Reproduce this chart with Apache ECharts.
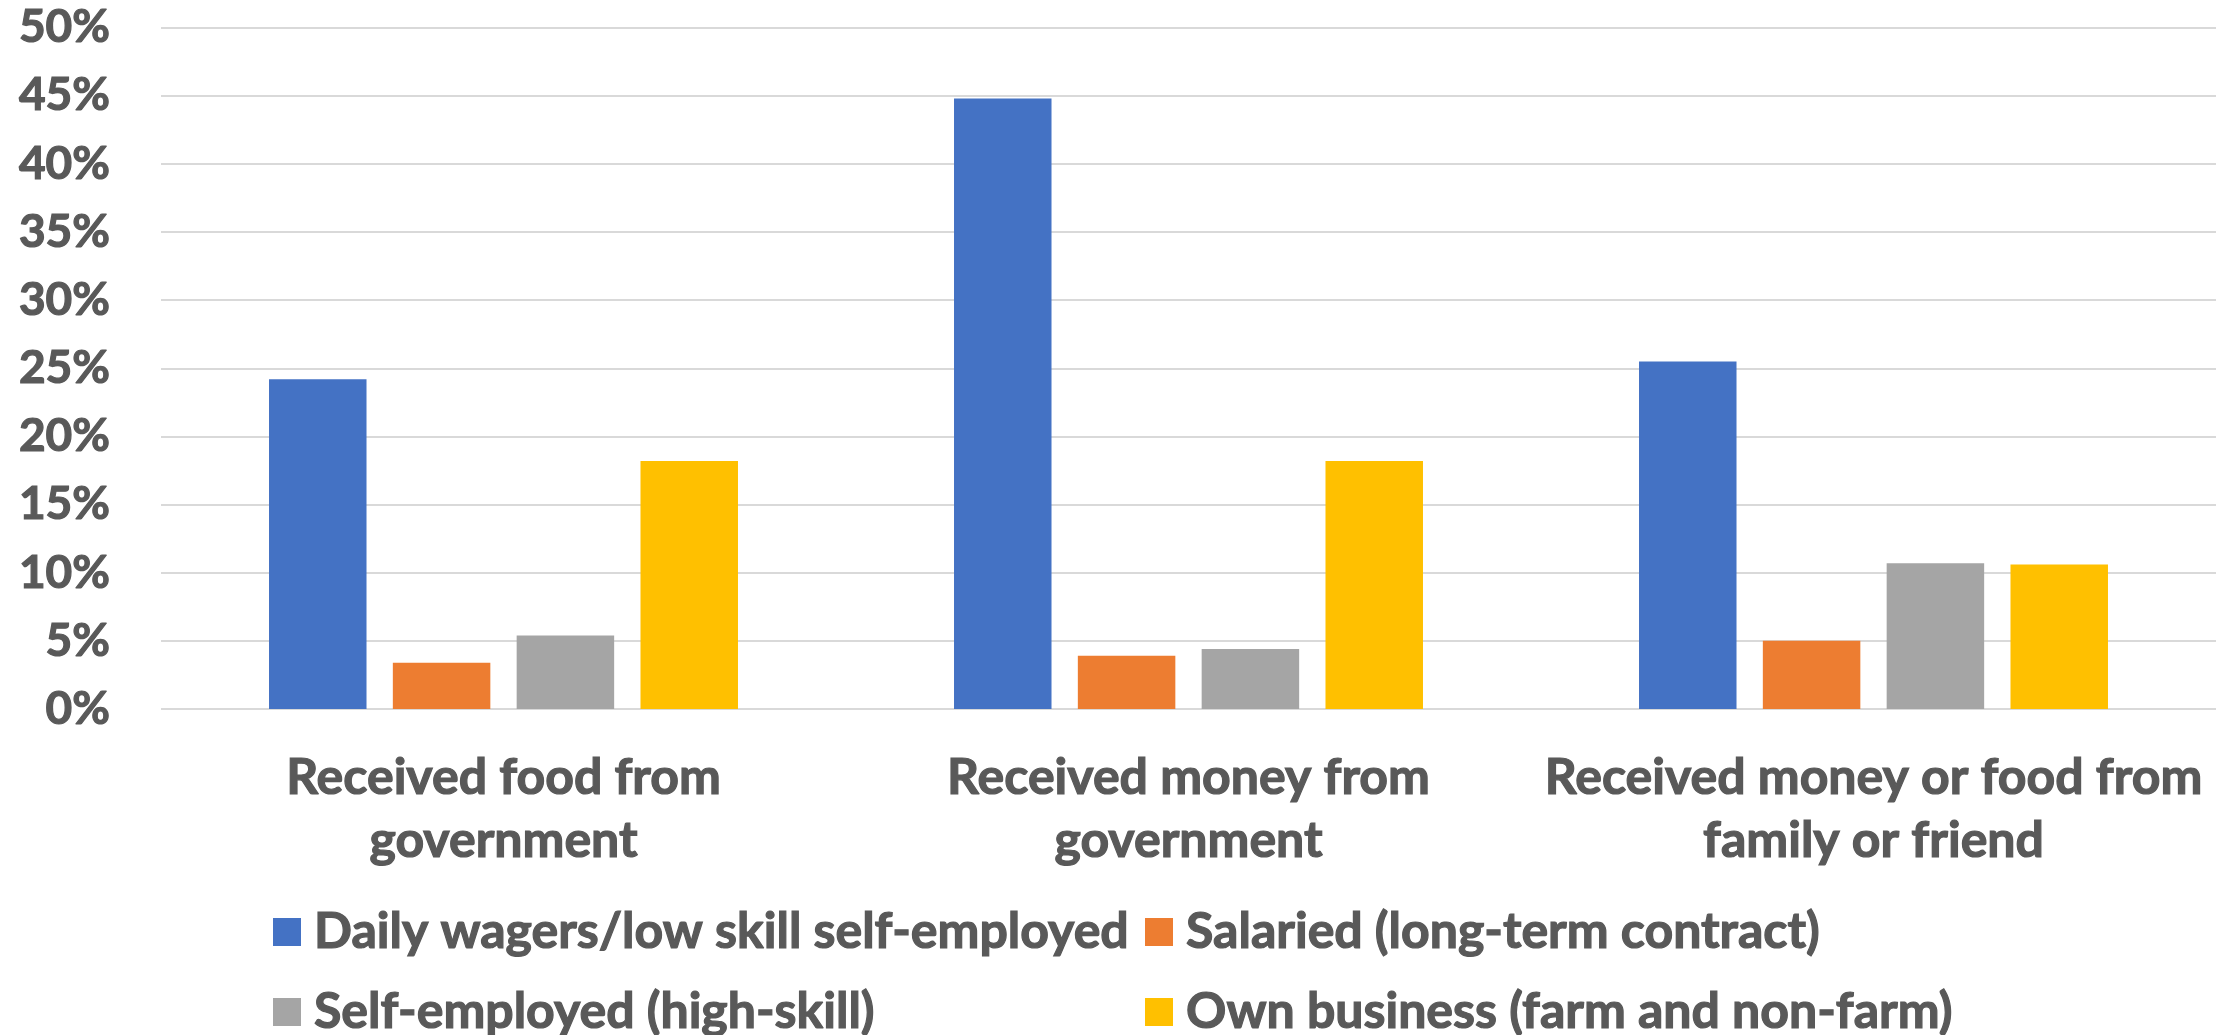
<!DOCTYPE html>
<html>
<head>
<meta charset="utf-8">
<script src="https://cdn.jsdelivr.net/npm/echarts@6/dist/echarts.min.js"></script>
<style>
  html, body { margin: 0; padding: 0; background: #ffffff; }
  #chart { width: 2224px; height: 1035px; }
</style>
</head>
<body>
<div id="chart"></div>
<script>
// Share of households receiving support, by main occupation (percent)
const categories = [
  'Received food from\ngovernment',
  'Received money from\ngovernment',
  'Received money or food from\nfamily or friend'
];
const seriesNames = [
  'Daily wagers/low skill self-employed',
  'Salaried (long-term contract)',
  'Self-employed (high-skill)',
  'Own business (farm and non-farm)'
];
const dailyWagers   = [24.2, 44.8, 25.5];
const salaried      = [3.4, 3.9, 5.0];
const selfEmployed  = [5.4, 4.4, 10.7];
const ownBusiness   = [18.2, 18.2, 10.6];
const yTicks = { min: 0, max: 50, interval: 5 };

const colors = ['#4472C4', '#ED7D31', '#A5A5A5', '#FFC000'];
const seriesValues = [dailyWagers, salaried, selfEmployed, ownBusiness];
const textColor = '#595959';
const fontFamily = 'Lato, "Open Sans", sans-serif';

// bold text with a thin same-colour outline for a heavier stroke
const heavyText = {
  color: textColor,
  fontFamily: fontFamily,
  fontWeight: 'bold',
  textBorderColor: textColor,
  textBorderWidth: 1.2
};

const legendPos = [
  { left: 268, top: 899 },
  { left: 1140, top: 899 },
  { left: 268, top: 979 },
  { left: 1140, top: 979 }
];

const chart = echarts.init(document.getElementById('chart'));
chart.setOption({
  animation: false,
  backgroundColor: '#ffffff',
  color: colors,
  grid: { left: 161, right: 8, top: 27.5, bottom: 326, containLabel: false },
  legend: seriesNames.map((name, i) => ({
    data: [name],
    left: legendPos[i].left,
    top: legendPos[i].top,
    itemWidth: 28,
    itemHeight: 28,
    icon: 'rect',
    textStyle: Object.assign({}, heavyText, {
      fontSize: 50,
      lineHeight: 56,
      padding: [0, 0, 0, 8]
    })
  })),
  xAxis: {
    type: 'category',
    data: categories,
    axisLine: { show: false },
    axisTick: { show: false },
    axisLabel: Object.assign({}, heavyText, {
      fontSize: 50,
      lineHeight: 63,
      margin: 37,
      interval: 0
    })
  },
  yAxis: {
    type: 'value',
    min: yTicks.min,
    max: yTicks.max,
    interval: yTicks.interval,
    axisLine: { show: false },
    axisTick: { show: false },
    splitLine: { lineStyle: { color: '#D9D9D9', width: 2 } },
    axisLabel: Object.assign({}, heavyText, {
      fontSize: 46,
      margin: 51,
      formatter: '{value}%'
    })
  },
  series: seriesNames.map((name, i) => ({
    name: name,
    type: 'bar',
    data: seriesValues[i],
    barWidth: 97.5,
    barGap: '27%',
    itemStyle: { color: colors[i] }
  }))
});
</script>
</body>
</html>
